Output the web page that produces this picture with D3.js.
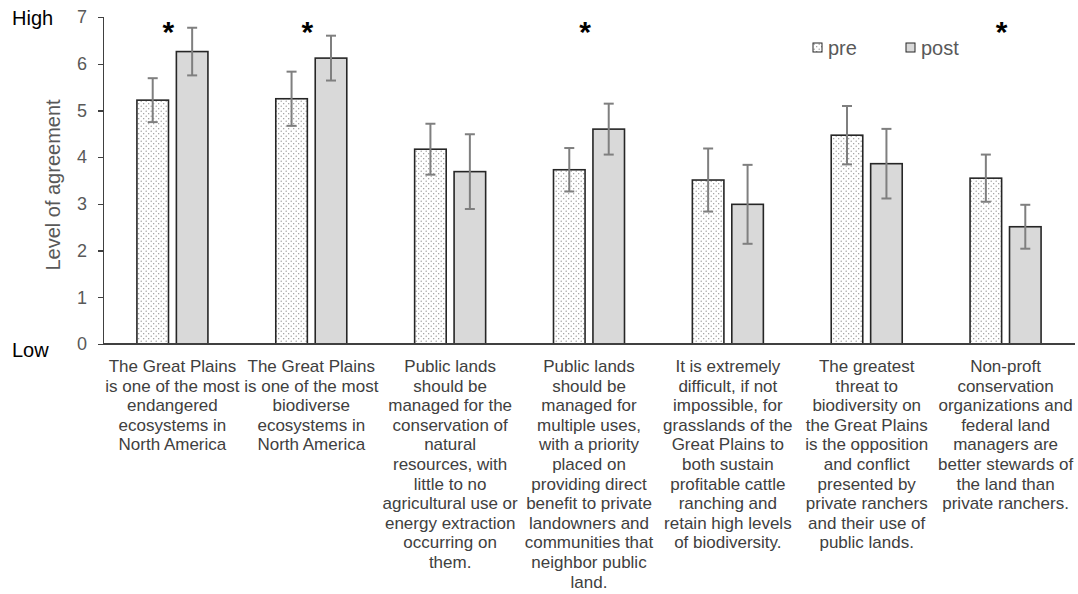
<!DOCTYPE html>
<html>
<head>
<meta charset="utf-8">
<script src="https://cdn.jsdelivr.net/npm/d3@7"></script>
<style>
	body { margin: 0; background: #fff; font-family: "Liberation Sans", Arial, sans-serif; }
	.axis path, .axis line { stroke: #404040; stroke-width: 1.3; shape-rendering: crispEdges; }
	.axis text { fill: #595959; font-size: 18px; font-family: "Liberation Sans", Arial, sans-serif; }
</style>
</head>
<body>
<div id="chart"></div>
<script>
	// categories (one line per entry)
	let categories = [
		["The Great Plains", "is one of the most", "endangered", "ecosystems in", "North America"],
		["The Great Plains", "is one of the most", "biodiverse", "ecosystems in", "North America"],
		["Public lands", "should be", "managed for the", "conservation of", "natural", "resources, with", "little to no", "agricultural use or", "energy extraction", "occurring on", "them."],
		["Public lands", "should be", "managed for", "multiple uses,", "with a priority", "placed on", "providing direct", "benefit to private", "landowners and", "communities that", "neighbor public", "land."],
		["It is extremely", "difficult, if not", "impossible, for", "grasslands of the", "Great Plains to", "both sustain", "profitable cattle", "ranching and", "retain high levels", "of biodiversity."],
		["The greatest", "threat to", "biodiversity on", "the Great Plains", "is the opposition", "and conflict", "presented by", "private ranchers", "and their use of", "public lands."],
		["Non-proft", "conservation", "organizations and", "federal land", "managers are", "better stewards of", "the land than", "private ranchers."]
	];
	let series = ["pre", "post"];
	let preMean = [5.22, 5.25, 4.17, 3.73, 3.51, 4.47, 3.55];
	let preErr = [0.47, 0.58, 0.545, 0.465, 0.675, 0.625, 0.505];
	let postMean = [6.26, 6.12, 3.69, 4.60, 2.99, 3.86, 2.51];
	let postErr = [0.51, 0.48, 0.80, 0.545, 0.845, 0.745, 0.47];
	let significant = [true, true, false, true, false, false, true];
	let yTicks = [0, 1, 2, 3, 4, 5, 6, 7];

	let width = 1078, height = 594;
	let plotLeft = 103, plotRight = 1075, plotTop = 17, plotBottom = 344;

	let svg = d3.select("#chart").append("svg")
		.attr("width", width)
		.attr("height", height);

	let defs = svg.append("defs");
	let pat = defs.append("pattern")
		.attr("id", "dots")
		.attr("patternUnits", "userSpaceOnUse")
		.attr("width", 5).attr("height", 5);
	pat.append("rect").attr("width", 5).attr("height", 5).attr("fill", "#fff");
	pat.append("circle").attr("cx", 1.2).attr("cy", 1.2).attr("r", 0.65).attr("fill", "#8c8c8c");
	pat.append("circle").attr("cx", 3.7).attr("cy", 3.7).attr("r", 0.65).attr("fill", "#8c8c8c");

	let fills = { pre: "url(#dots)", post: "#d9d9d9" };

	let x = d3.scaleBand().domain(d3.range(categories.length)).range([plotLeft, plotRight]);
	let y = d3.scaleLinear().domain([0, 7]).range([plotBottom, plotTop]);

	// y axis
	let yAxis = d3.axisLeft(y).tickValues(yTicks).tickFormat(d3.format("d")).tickSize(5).tickPadding(11);
	svg.append("g")
		.attr("class", "axis")
		.attr("transform", "translate(" + plotLeft + ",0)")
		.call(yAxis);

	// data rows
	let rows = categories.map(function(c, i) {
		return [
			{ s: "pre", i: i, v: preMean[i], e: preErr[i] },
			{ s: "post", i: i, v: postMean[i], e: postErr[i] }
		];
	});

	let groups = svg.append("g").selectAll("g")
		.data(rows)
		.enter().append("g");

	groups.each(function(row, i) {
		let c = x(i) + x.bandwidth() / 2;
		let sub = d3.scaleBand().domain(series).range([c - 35.5, c + 35.5]).paddingInner(0.2);
		let g = d3.select(this);
		g.selectAll("rect")
			.data(row)
			.enter().append("rect")
			.attr("x", function(d) { return sub(d.s); })
			.attr("y", function(d) { return y(d.v); })
			.attr("width", sub.bandwidth())
			.attr("height", function(d) { return y(0) - y(d.v); })
			.attr("fill", function(d) { return fills[d.s]; })
			.attr("stroke", "#262626")
			.attr("stroke-width", 1.6);

		let eb = g.selectAll("g.err")
			.data(row)
			.enter().append("g")
			.attr("class", "err")
			.attr("stroke", "#7f7f7f")
			.attr("stroke-width", 2);
		eb.append("line")
			.attr("x1", function(d) { return sub(d.s) + sub.bandwidth() / 2; })
			.attr("x2", function(d) { return sub(d.s) + sub.bandwidth() / 2; })
			.attr("y1", function(d) { return y(d.v + d.e); })
			.attr("y2", function(d) { return y(d.v - d.e); });
		[1, -1].forEach(function(k) {
			eb.append("line")
				.attr("x1", function(d) { return sub(d.s) + sub.bandwidth() / 2 - 5; })
				.attr("x2", function(d) { return sub(d.s) + sub.bandwidth() / 2 + 5; })
				.attr("y1", function(d) { return y(d.v + k * d.e); })
				.attr("y2", function(d) { return y(d.v + k * d.e); });
		});

		if (significant[i]) {
			g.append("text")
				.attr("x", c - 4)
				.attr("y", 42)
				.attr("text-anchor", "middle")
				.attr("font-size", 30)
				.attr("font-weight", "bold")
				.attr("fill", "#000")
				.text("*");
		}

		// category label
		let t = g.append("text")
			.attr("text-anchor", "middle")
			.attr("fill", "#404040")
			.attr("font-size", 17);
		t.selectAll("tspan")
			.data(categories[i])
			.enter().append("tspan")
			.attr("x", c)
			.attr("y", function(d, j) { return 372 + j * 19.6; })
			.text(function(d) { return d; });
	});

	// x axis line
	svg.append("line")
		.attr("x1", plotLeft).attr("x2", plotRight)
		.attr("y1", plotBottom).attr("y2", plotBottom)
		.attr("stroke", "#404040")
		.attr("stroke-width", 1.3)
		.attr("shape-rendering", "crispEdges");

	// y title
	svg.append("text")
		.attr("transform", "translate(60,185) rotate(-90)")
		.attr("text-anchor", "middle")
		.attr("fill", "#595959")
		.attr("font-size", 20)
		.text("Level of agreement");

	svg.append("text").attr("x", 12).attr("y", 25).attr("font-size", 20).attr("fill", "#000").text("High");
	svg.append("text").attr("x", 12).attr("y", 357).attr("font-size", 20).attr("fill", "#000").text("Low");

	// legend
	let legend = svg.append("g").selectAll("g")
		.data(series)
		.enter().append("g")
		.attr("transform", function(d, i) { return "translate(" + (813 + i * 93) + ",43)"; });
	legend.append("rect")
		.attr("width", 9).attr("height", 9)
		.attr("fill", function(d) { return fills[d]; })
		.attr("stroke", "#262626")
		.attr("stroke-width", 1);
	legend.append("text")
		.attr("x", 15).attr("y", 12)
		.attr("font-size", 20)
		.attr("fill", "#595959")
		.text(function(d) { return d; });
</script>
</body>
</html>
